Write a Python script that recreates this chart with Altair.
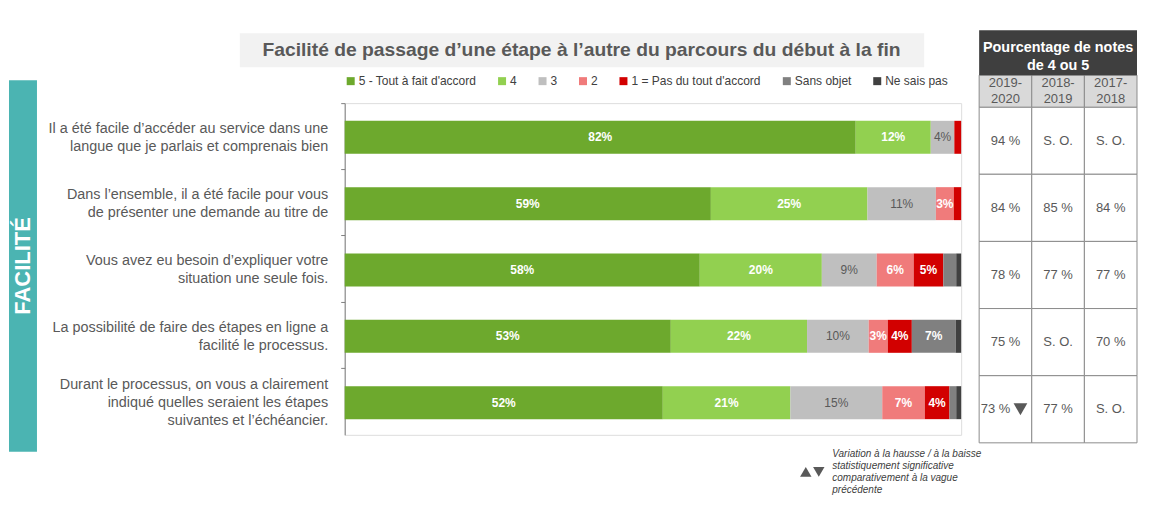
import altair as alt
import pandas as pd

FONT = "Liberation Sans"

questions = [
    "Il a été facile d’accéder au service dans une|langue que je parlais et comprenais bien",
    "Dans l’ensemble, il a été facile pour vous|de présenter une demande au titre de",
    "Vous avez eu besoin d’expliquer votre|situation une seule fois.",
    "La possibilité de faire des étapes en ligne a|facilité le processus.",
    "Durant le processus, on vous a clairement|indiqué quelles seraient les étapes|suivantes et l’échéancier.",
]
categories = ["5 - Tout à fait d'accord", "4", "3", "2", "1 = Pas du tout d'accord", "Sans objet", "Ne sais pas"]
palette = ["#6DA92D", "#92D050", "#BFBFBF", "#F07B7B", "#D20000", "#808080", "#404040"]

pct_5 = [82.4, 59.4, 57.6, 52.9, 51.6]
pct_4 = [12.1, 25.4, 19.8, 22.1, 20.7]
pct_3 = [3.8, 11.1, 8.9, 10.0, 14.9]
pct_2 = [0.0, 2.9, 6.0, 3.1, 6.9]
pct_1 = [1.1, 1.2, 4.8, 3.9, 4.0]
pct_sans_objet = [0.0, 0.0, 2.1, 7.1, 1.1]
pct_ne_sais_pas = [0.0, 0.0, 0.8, 0.9, 0.8]

years = ["2019-2020", "2018-2019", "2017-2018"]
notes_2019_2020 = ["94 %", "84 %", "78 %", "75 %", "73 %"]
notes_2018_2019 = ["S. O.", "85 %", "77 %", "S. O.", "77 %"]
notes_2017_2018 = ["S. O.", "84 %", "77 %", "70 %", "S. O."]
signif_2019_2020 = ["", "", "", "", "baisse"]

title_text = "Facilité de passage d’une étape à l’autre du parcours du début à la fin"
section_text = "FACILITÉ"
table_header = "Pourcentage de notes\nde 4 ou 5"
note_text = "Variation à la hausse / à la baisse\nstatistiquement significative\ncomparativement à la vague\nprécédente"

# ---------- data tables ----------
series = [pct_5, pct_4, pct_3, pct_2, pct_1, pct_sans_objet, pct_ne_sais_pas]
rows = []
for ci, (cat, vals) in enumerate(zip(categories, series)):
    for q, v in zip(questions, vals):
        rows.append({"question": q, "category": cat, "order": ci, "value": v})
df = pd.DataFrame(rows)

trows = []
for year, col in zip(years, [notes_2019_2020, notes_2018_2019, notes_2017_2018]):
    for qi, (q, s) in enumerate(zip(questions, col)):
        sig = signif_2019_2020[qi] if year == years[0] else ""
        trows.append({"question": q, "year": year, "score": s, "sig": sig})
tdf = pd.DataFrame(trows)
ydf = pd.DataFrame({"year": years})

W, H = 617, 332

# ---------- main stacked bars (100 % stacked) ----------
xscale = alt.Scale(domain=[0, 1])
yscale = alt.Scale(domain=questions, paddingInner=0, paddingOuter=0)

stacked = alt.Chart(df).transform_filter("datum.value > 0").transform_stack(
    stack="value", groupby=["question"], sort=[alt.SortField("order", "ascending")],
    as_=["x0", "x1"], offset="normalize",
).transform_calculate(
    mid="(datum.x0 + datum.x1) / 2",
    label="format(datum.value, '.0f') + '%'",
)

bars = stacked.mark_bar(size=33, yOffset=1).encode(
    x=alt.X("x0:Q", scale=xscale, axis=None),
    x2="x1:Q",
    y=alt.Y(
        "question:N", scale=yscale, sort=questions, title=None,
        axis=alt.Axis(
            labelExpr="split(datum.label, '|')", labelFont=FONT, labelFontSize=14.4,
            labelColor="#595959", labelLineHeight=18, labelPadding=13, labelLimit=400,
            tickSize=4, tickColor="#808080", domainColor="#808080",
            bandPosition=0,
            labelOffset={"condition": {"test": "length(split(datum.value, '|')) > 2", "value": -17}, "value": -7.5},
            grid=False,
        ),
    ),
    color=alt.Color(
        "category:N", scale=alt.Scale(domain=categories, range=palette),
        legend=alt.Legend(
            title=None, orient="none", legendX=0, legendY=-28, direction="horizontal",
            symbolType="square", symbolSize=64, symbolStrokeWidth=0,
            labelFont=FONT, labelFontSize=12, labelColor="#404040",
            columnPadding=19.5, labelOffset=2, padding=0,
        ),
    ),
)

lab_white = stacked.transform_filter("datum.value >= 2.5 && datum.category != '3'").mark_text(
    font=FONT, fontSize=12, fontWeight="bold", color="white", yOffset=1
).encode(
    x=alt.X("mid:Q", scale=xscale, axis=None),
    y=alt.Y("question:N", scale=yscale, sort=questions),
    text="label:N",
)
lab_grey = stacked.transform_filter("datum.value >= 2.5 && datum.category == '3'").mark_text(
    font=FONT, fontSize=12, color="#595959", yOffset=1
).encode(
    x=alt.X("mid:Q", scale=xscale, axis=None),
    y=alt.Y("question:N", scale=yscale, sort=questions),
    text="label:N",
)
main = alt.layer(bars, lab_white, lab_grey)

# ---------- right-hand table ----------
tx = alt.Scale(domain=years, range=[635, 793], paddingInner=0, paddingOuter=0)
ty = alt.Scale(domain=questions, range=[4, 340], paddingInner=0, paddingOuter=0)

cells = alt.Chart(tdf).mark_rect(fill="white", stroke="#8C8C8C", strokeWidth=1).encode(
    x=alt.X("year:N", scale=tx, sort=years, axis=None),
    y=alt.Y("question:N", scale=ty, sort=questions, axis=None),
)
cell_txt = alt.Chart(tdf).transform_filter("datum.sig == ''").mark_text(
    font=FONT, fontSize=13, color="#595959"
).encode(
    x=alt.X("year:N", scale=tx, sort=years, axis=None),
    y=alt.Y("question:N", scale=ty, sort=questions, axis=None),
    text="score:N",
)
cell_txt_sig = alt.Chart(tdf).transform_filter("datum.sig != ''").mark_text(
    font=FONT, fontSize=13, color="#595959", dx=-10
).encode(
    x=alt.X("year:N", scale=tx, sort=years, axis=None),
    y=alt.Y("question:N", scale=ty, sort=questions, axis=None),
    text="score:N",
)
cell_tri = alt.Chart(tdf).transform_filter("datum.sig == 'baisse'").mark_point(
    shape="triangle-down", filled=True, size=190, color="#595959", opacity=1, xOffset=15
).encode(
    x=alt.X("year:N", scale=tx, sort=years, axis=None),
    y=alt.Y("question:N", scale=ty, sort=questions, axis=None),
)
year_rect = alt.Chart(ydf).mark_rect(fill="#D9D9D9", stroke="#8C8C8C", strokeWidth=1).encode(
    x=alt.X("year:N", scale=tx, sort=years, axis=None),
    y=alt.value(-28), y2=alt.value(4),
)
year_txt = alt.Chart(ydf).transform_calculate(
    lbl="replace(datum.year, '-', '-\\n')"
).mark_text(font=FONT, fontSize=13, color="#595959", lineBreak="\n", lineHeight=16).encode(
    x=alt.X("year:N", scale=tx, sort=years, axis=None),
    y=alt.value(-20),
    text="lbl:N",
)
table = alt.layer(cells, cell_txt, cell_txt_sig, cell_tri, year_rect, year_txt)

# ---------- decorations ----------
hdr = pd.DataFrame({"t": [table_header]})
hdr_rect = alt.Chart(hdr).mark_rect(fill="#3F3F3F").encode(
    x=alt.value(635), x2=alt.value(793), y=alt.value(-73), y2=alt.value(-28)
)
hdr_txt = alt.Chart(hdr).mark_text(
    font=FONT, fontSize=14.4, fontWeight="bold", color="white", lineBreak="\n", lineHeight=18
).encode(x=alt.value(714), y=alt.value(-55), text="t:N")

tdf_title = pd.DataFrame({"t": [title_text]})
title_rect = alt.Chart(tdf_title).mark_rect(fill="#F2F2F2").encode(
    x=alt.value(-105), x2=alt.value(580), y=alt.value(-70), y2=alt.value(-36)
)
title_txt = alt.Chart(tdf_title).mark_text(
    font=FONT, fontSize=19.3, fontWeight="bold", color="#595959"
).encode(x=alt.value(237), y=alt.value(-53), text="t:N")

sec = pd.DataFrame({"t": [section_text]})
band_rect = alt.Chart(sec).mark_rect(fill="#4BB4B2").encode(
    x=alt.value(-336), x2=alt.value(-308), y=alt.value(-23), y2=alt.value(349)
)
band_txt = alt.Chart(sec).mark_text(
    font=FONT, fontSize=22, fontWeight="bold", color="white", angle=270
).encode(x=alt.value(-322), y=alt.value(163), text="t:N")

note = pd.DataFrame({"t": [note_text]})
tri_up = alt.Chart(note).mark_point(shape="triangle-up", filled=True, size=130, color="#595959", opacity=1).encode(
    x=alt.value(461.5), y=alt.value(369)
)
tri_down = alt.Chart(note).mark_point(shape="triangle-down", filled=True, size=130, color="#595959", opacity=1).encode(
    x=alt.value(474.5), y=alt.value(369)
)
note_txt = alt.Chart(note).mark_text(
    font=FONT, fontSize=10, fontStyle="italic", color="#404040", align="left", baseline="top",
    lineBreak="\n", lineHeight=12
).encode(x=alt.value(488), y=alt.value(346), text="t:N")

chart = alt.layer(
    main, table, hdr_rect, hdr_txt, title_rect, title_txt, band_rect, band_txt, tri_up, tri_down, note_txt
).resolve_scale(
    x="independent", y="independent"
).properties(
    width=W, height=H,
    padding={"left": 337, "top": 95, "right": 180, "bottom": 65},
    autosize=alt.AutoSizeParams(type="none"),
).configure_view(stroke=None).configure(font=FONT)

chart.save("out.html", embed_options={"renderer": "svg", "actions": False})
